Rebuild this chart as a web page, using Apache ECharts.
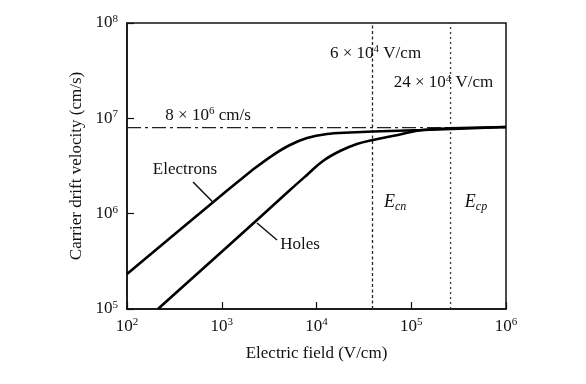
<!DOCTYPE html>
<html><head><meta charset="utf-8">
<script src="https://cdn.jsdelivr.net/npm/echarts@6/dist/echarts.min.js"></script>
<style>html,body{margin:0;padding:0;background:#fff}#c{width:586px;height:384px}</style>
</head><body><div id="c"></div>
<script>
// Data
const electronField    = [100, 809, 1560, 2245, 3475, 5250, 7940, 12900, 22600, 39400, 133000, 1000000];
const electronVelocity = [2.33e5, 1.32e6, 2.25e6, 3.01e6, 4.12e6, 5.25e6, 6.22e6, 6.85e6, 7.10e6, 7.28e6, 7.55e6, 8.1e6];
const holeField        = [212, 2355, 5250, 7940, 11700, 17700, 26700, 39400, 72400, 133000, 1000000];
const holeVelocity     = [1e5, 8.59e5, 1.77e6, 2.55e6, 3.57e6, 4.54e6, 5.38e6, 5.93e6, 6.69e6, 7.55e6, 8.1e6];
const saturationVelocity = 8e6;
const criticalFields = [3.9e4, 2.6e5];      // E_cn, E_cp as drawn
const xRange = [1e2, 1e6];
const yRange = [1e5, 1e8];
const xTickExponents = [2, 3, 4, 5, 6];
const yTickExponents = [5, 6, 7, 8];

const FONT = '"Liberation Serif", "Times New Roman", serif';
const zip = (a, b) => a.map((v, i) => [v, b[i]]);
const supRich = {
  b: {fontFamily: FONT, fontSize: 17, color: '#111'},
  s: {fontFamily: FONT, fontSize: 11, color: '#111', verticalAlign: 'bottom', padding: [0, 0, 8, 0]}
};
function tickFmt(exps) {
  return v => {
    const e = Math.round(Math.log10(v));
    return exps.includes(e) ? '{b|10}{s|' + e + '}' : '';
  };
}

const chart = echarts.init(document.getElementById('c'), null, {renderer: 'canvas'});
const option = {
  animation: false,
  backgroundColor: '#fff',
  grid: {left: 127, right: 80, top: 23, bottom: 75, show: true, borderColor: '#111', borderWidth: 1.5, backgroundColor: 'transparent'},
  xAxis: {
    type: 'log', logBase: 10, min: xRange[0], max: xRange[1],
    name: 'Electric field (V/cm)', nameLocation: 'middle', nameGap: 36,
    nameTextStyle: {fontFamily: FONT, fontSize: 17, color: '#111'},
    axisLine: {lineStyle: {color: '#111', width: 1.5}},
    axisTick: {inside: true, length: 7, lineStyle: {color: '#111', width: 1.2}},
    minorTick: {show: false},
    splitLine: {show: false},
    axisLabel: {formatter: tickFmt(xTickExponents), rich: supRich, margin: 8}
  },
  yAxis: {
    type: 'log', logBase: 10, min: yRange[0], max: yRange[1],
    name: 'Carrier drift velocity (cm/s)', nameLocation: 'middle', nameGap: 30, nameRotate: 90,
    nameTextStyle: {fontFamily: FONT, fontSize: 17, color: '#111'},
    axisLine: {lineStyle: {color: '#111', width: 1.5}},
    axisTick: {inside: true, length: 7, lineStyle: {color: '#111', width: 1.2}},
    minorTick: {show: false},
    splitLine: {show: false},
    axisLabel: {formatter: tickFmt(yTickExponents), rich: supRich, margin: 9}
  },
  series: [
    {type: 'line', name: 'sat', data: [[xRange[0], saturationVelocity], [xRange[1], saturationVelocity]],
     symbol: 'none', lineStyle: {color: '#222', width: 1.3, type: [14, 4, 3, 4]}, z: 1},
    {type: 'line', name: 'Ecn', data: [[criticalFields[0], yRange[0]], [criticalFields[0], yRange[1]]],
     symbol: 'none', lineStyle: {color: '#222', width: 1.3, type: [3, 2.5]}, z: 1},
    {type: 'line', name: 'Ecp', data: [[criticalFields[1], yRange[0]], [criticalFields[1], yRange[1]]],
     symbol: 'none', lineStyle: {color: '#333', width: 1.3, type: [2, 3]}, z: 1},
    {type: 'line', name: 'Electrons', data: zip(electronField, electronVelocity), smooth: 0.3,
     symbol: 'none', lineStyle: {color: '#000', width: 2.6}, z: 3},
    {type: 'line', name: 'Holes', data: zip(holeField, holeVelocity), smooth: 0.4,
     symbol: 'none', lineStyle: {color: '#000', width: 2.6}, z: 3}
  ]
};
chart.setOption(option);

// Annotations placed in data coordinates
const P = (x, y) => chart.convertToPixel({gridIndex: 0}, [x, y]);
const txtRich = {
  b: {fontFamily: FONT, fontSize: 17, fill: '#111'},
  s: {fontFamily: FONT, fontSize: 11, fill: '#111', verticalAlign: 'bottom', padding: [0, 0, 8, 0]},
  i: {fontFamily: FONT, fontSize: 18, fill: '#111', fontStyle: 'italic'},
  d: {fontFamily: FONT, fontSize: 12, fill: '#111', fontStyle: 'italic', verticalAlign: 'top', padding: [9, 0, 0, 0]}
};
function label(x, y, text, size) {
  const p = P(x, y);
  return {type: 'text', x: p[0], y: p[1], z: 10,
    style: {text: text, rich: txtRich, fontFamily: FONT, fontSize: size || 17, fill: '#111', align: 'center', verticalAlign: 'middle'}};
}
function leader(x1, y1, x2, y2) {
  const a = P(x1, y1), b = P(x2, y2);
  return {type: 'line', z: 10, shape: {x1: a[0], y1: a[1], x2: b[0], y2: b[1]}, style: {stroke: '#111', lineWidth: 1.5}};
}
chart.setOption({graphic: [
  label(717, 1.08e7, '{b|8 × 10}{s|6}{b| cm/s}'),
  label(42000, 4.84e7, '{b|6 × 10}{s|4}{b| V/cm}'),
  label(2.19e5, 2.35e7, '{b|24 × 10}{s|4}{b| V/cm}'),
  label(409, 2.87e6, 'Electrons', 17),
  leader(498, 2.15e6, 809, 1.32e6),
  label(6700, 4.69e5, 'Holes', 17),
  leader(2355, 7.98e5, 3830, 5.3e5),
  label(67500, 1.32e6, '{i|E}{d|cn}'),
  label(4.82e5, 1.32e6, '{i|E}{d|cp}')
]});
</script>
</body></html>
